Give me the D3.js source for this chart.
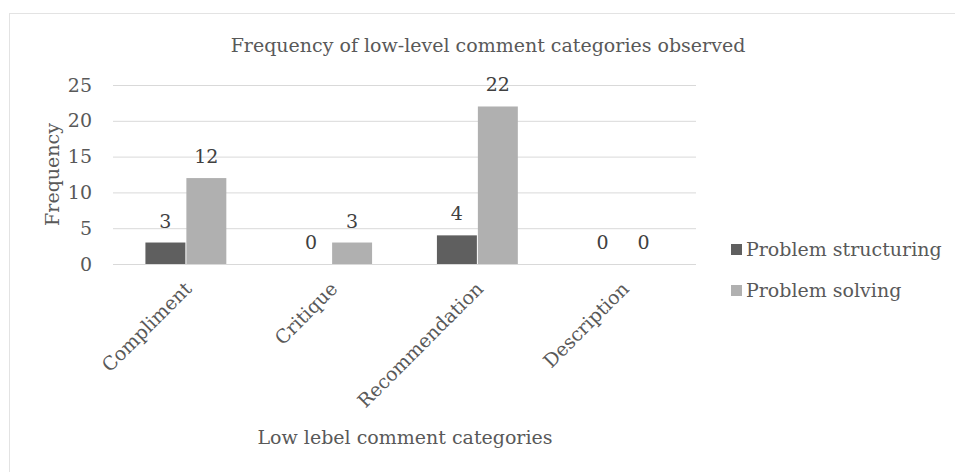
<!DOCTYPE html>
<html><head><meta charset="utf-8">
<script src="https://cdn.jsdelivr.net/npm/d3@7"></script>
<style>body{margin:0;background:#fff}svg{display:block}</style>
</head><body>
<svg id="c" width="955" height="472"></svg>
<script>
const categories = ["Compliment", "Critique", "Recommendation", "Description"];
const seriesNames = ["Problem structuring", "Problem solving"];
const structuring = [3, 0, 4, 0];
const solving = [12, 3, 22, 0];
const yTicks = [0, 5, 10, 15, 20, 25];
const colors = ["#5f5f5f", "#b0b0b0"];

(function(){
const FONT = "'DejaVu Serif', serif";
const FS = 19;
const TXT = "#595959";
const svg = d3.select("#c");
svg.append("rect").attr("x", 9.5).attr("y", 13.5).attr("width", 960).attr("height", 470)
  .attr("fill", "#fff").attr("stroke", "#e3e3e3");

const pL = 113, pR = 696, pT = 85, pB = 264;
const x = d3.scaleBand().domain(categories).range([pL, pR]).paddingInner(0.438).paddingOuter(0.219);
const x1 = d3.scaleBand().domain(seriesNames).range([0, x.bandwidth()]);
const y = d3.scaleLinear().domain([0, 25]).range([pB, pT]);

svg.append("g").selectAll("line").data(yTicks).join("line")
  .attr("x1", pL).attr("x2", pR)
  .attr("y1", d => y(d) + 0.5).attr("y2", d => y(d) + 0.5)
  .attr("stroke", "#d9d9d9").attr("stroke-width", 1);

const yAxis = svg.append("g").attr("transform", `translate(${pL - 21},0)`)
  .call(d3.axisLeft(y).tickValues(yTicks).tickSize(0).tickPadding(0));
yAxis.select(".domain").remove();
yAxis.selectAll("text").attr("font-family", FONT).attr("font-size", FS).attr("fill", TXT);

const data = categories.map((c, i) => ({c, vals: [structuring[i], solving[i]]}));
const groups = svg.append("g").selectAll("g").data(data).join("g")
  .attr("transform", d => `translate(${x(d.c)},0)`);
groups.selectAll("rect").data(d => d.vals.map((v, j) => ({v, s: seriesNames[j], j})))
  .join("rect")
  .attr("x", d => x1(d.s) + 0.5).attr("width", x1.bandwidth() - 1)
  .attr("y", d => y(d.v)).attr("height", d => y(0) - y(d.v))
  .attr("fill", d => colors[d.j]);
groups.selectAll("text").data(d => d.vals.map((v, j) => ({v, s: seriesNames[j], j})))
  .join("text")
  .attr("x", d => x1(d.s) + x1.bandwidth() / 2)
  .attr("y", d => y(d.v) - 15)
  .attr("text-anchor", "middle")
  .attr("font-family", FONT).attr("font-size", FS).attr("fill", "#404040")
  .text(d => d.v);

const xAxis = svg.append("g").attr("transform", `translate(0,${pB})`)
  .call(d3.axisBottom(x).tickSize(0).tickPadding(0));
xAxis.select(".domain").remove();
xAxis.selectAll("text")
  .attr("font-family", FONT).attr("font-size", FS).attr("fill", TXT)
  .attr("text-anchor", "end")
  .attr("dy", null).attr("y", 0)
  .attr("transform", "translate(7,26) rotate(-45)");

svg.append("text").attr("x", 488).attr("y", 52).attr("text-anchor", "middle")
  .attr("font-family", FONT).attr("font-size", FS).attr("fill", TXT)
  .text("Frequency of low-level comment categories observed");
svg.append("text").attr("transform", `translate(59,${(pT + pB) / 2}) rotate(-90)`)
  .attr("text-anchor", "middle")
  .attr("font-family", FONT).attr("font-size", FS).attr("fill", TXT).text("Frequency");
svg.append("text").attr("x", 405).attr("y", 444).attr("text-anchor", "middle")
  .attr("font-family", FONT).attr("font-size", FS).attr("fill", TXT).text("Low lebel comment categories");

const lg = svg.append("g").selectAll("g").data(seriesNames).join("g")
  .attr("transform", (d, i) => `translate(731,${250 + i * 41})`);
lg.append("rect").attr("x", 0).attr("y", -6).attr("width", 11).attr("height", 11)
  .attr("fill", (d, i) => colors[i]);
lg.append("text").attr("x", 15).attr("y", 6)
  .attr("font-family", FONT).attr("font-size", FS).attr("fill", TXT).text(d => d);
})();
</script>
</body></html>
